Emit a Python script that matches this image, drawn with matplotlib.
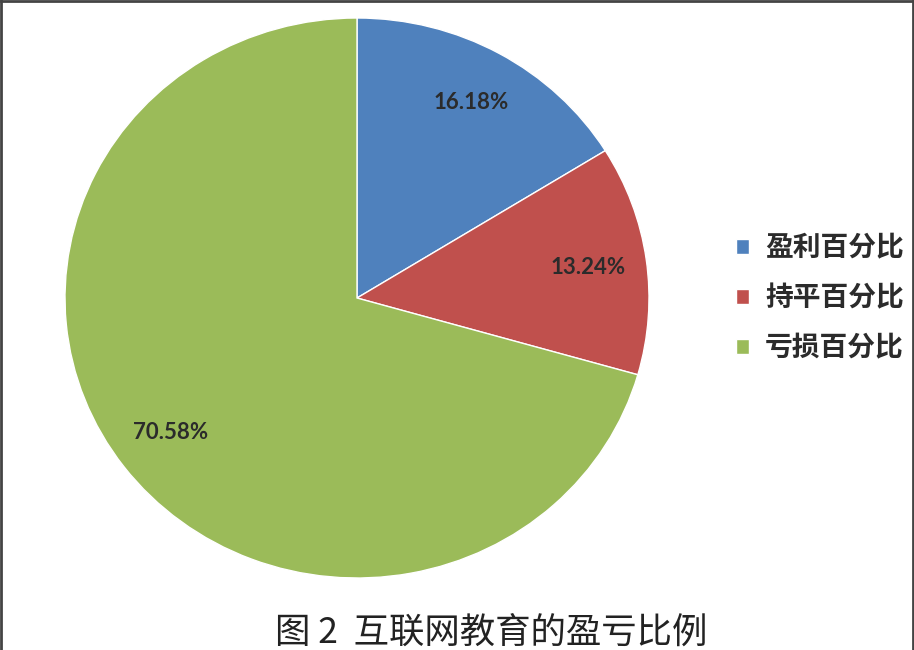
import matplotlib
matplotlib.use('Agg')
import matplotlib.pyplot as plt
from matplotlib.lines import Line2D

plt.rcParams['font.family'] = ['Noto Sans CJK SC', 'DejaVu Sans']

# данные
labels = ['盈利百分比', '持平百分比', '亏损百分比']
values = [16.18, 13.24, 70.58]
colors = ['#4F81BD', '#C0504D', '#9BBB59']
caption = '图 2  互联网教育的盈亏比例'

W, H = 914, 650
fig = plt.figure(figsize=(W / 100, H / 100), dpi=100)

# круг немного вытянут по горизонтали, как в оригинале
ax = fig.add_axes([65 / W, 72 / H, 584 / W, 560 / H])
wedges, texts, autotexts = ax.pie(
    values, colors=colors, startangle=90, counterclock=False,
    autopct='%.2f%%', pctdistance=0.8,
    wedgeprops=dict(edgecolor='white', linewidth=1),
    textprops=dict(fontsize=16, color='#2b2b2b', fontweight='bold',
                   family=['Lato', 'DejaVu Sans']),
)
ax.set_aspect('auto')
ax.set_xlim(-1, 1)
ax.set_ylim(-1, 1)

fig.legend(wedges, labels, loc='upper left',
           bbox_to_anchor=(711 / W, 1 - 209 / H),
           frameon=False, handlelength=0.45, handleheight=0.45,
           handletextpad=0.6, labelspacing=0.8,
           prop=dict(size=20, weight='bold'), labelcolor='#2b2b2b')

fig.text(491 / W, 1 - 633 / H, caption, ha='center', va='center',
         fontsize=25.5, color='#222222', fontweight='light')

# рамка сверху и по бокам
for xs, ys in [([0.001, 0.999], [0.998, 0.998]),
               ([0.0015, 0.0015], [0, 1]),
               ([0.9985, 0.9985], [0, 1])]:
    fig.add_artist(Line2D(xs, ys, transform=fig.transFigure,
                          color='#444444', linewidth=2))

fig.savefig('out.png', dpi=100)
